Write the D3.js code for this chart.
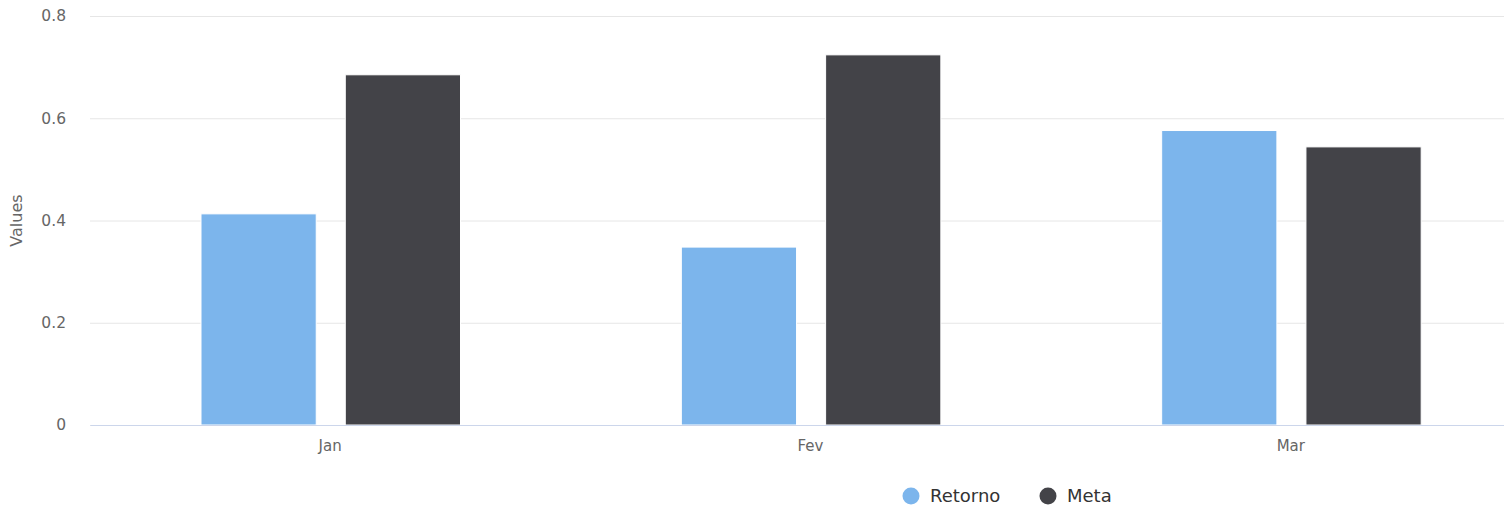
<!DOCTYPE html>
<html>
<head>
<meta charset="utf-8">
<script src="https://cdn.jsdelivr.net/npm/d3@7"></script>
<style>
  html, body { margin: 0; padding: 0; background: #fff; overflow: hidden; }
  svg { display: block; }
  svg text { font-family: "DejaVu Sans", "Lucida Grande", sans-serif; }
</style>
</head>
<body>
<div id="chart"></div>
<script>
const categories = ['Jan', 'Fev', 'Mar'];
const seriesNames = ['Retorno', 'Meta'];
const retorno = [0.413, 0.348, 0.576];
const meta = [0.685, 0.724, 0.544];
const yTicks = [0, 0.2, 0.4, 0.6, 0.8];
const colors = ['#7cb5ec', '#434348'];

const width = 1504;
const height = 513;
const plotLeft = 90;
const plotRight = 1531; // plot runs past the window edge, as in the original
const plotTop = 16;
const plotBottom = 425;

const dataset = categories.map((c, i) => ({cat: c, values: [retorno[i], meta[i]]}));

const svg = d3.select('#chart').append('svg')
    .attr('width', width)
    .attr('height', height);

const xScale = d3.scaleBand()
    .domain(categories)
    .range([plotLeft, plotRight]);

const inner = d3.scaleBand()
    .domain(seriesNames)
    .range([111, 370.5])
    .paddingInner(29 / 144);

const yScale = d3.scaleLinear()
    .domain([0, 0.8])
    .range([plotBottom, plotTop]);

// grid lines
const yAxis = d3.axisLeft(yScale)
    .tickValues(yTicks)
    .tickSize(-(width - plotLeft))
    .tickPadding(24)
    .tickFormat(d => d === 0 ? '0' : d3.format('.1f')(d));

const gy = svg.append('g')
    .attr('transform', `translate(${plotLeft}, 0)`)
    .call(yAxis);
gy.select('.domain').remove();
gy.selectAll('.tick line').attr('stroke', '#e6e6e6');
gy.selectAll('.tick text')
    .attr('fill', '#666666')
    .style('font-size', '15.5px');

svg.append('text')
    .attr('transform', `translate(22, ${(plotTop + plotBottom) / 2}) rotate(-90)`)
    .attr('text-anchor', 'middle')
    .attr('fill', '#666666')
    .style('font-size', '16px')
    .text('Values');

// bars
const groups = svg.selectAll('.group')
    .data(dataset)
    .enter()
    .append('g')
    .attr('transform', d => `translate(${xScale(d.cat)}, 0)`);

groups.selectAll('rect')
    .data(d => d.values.map((v, k) => ({name: seriesNames[k], value: v, k})))
    .enter()
    .append('rect')
    .attr('x', d => inner(d.name))
    .attr('y', d => yScale(d.value))
    .attr('width', inner.bandwidth())
    .attr('height', d => plotBottom - yScale(d.value))
    .attr('fill', d => colors[d.k])
    .attr('stroke', '#ffffff')
    .attr('stroke-width', 1);

// x axis
const xAxis = d3.axisBottom(xScale).tickSize(0).tickPadding(15);
const gx = svg.append('g')
    .attr('transform', `translate(0, ${plotBottom})`)
    .call(xAxis);
gx.select('.domain').attr('stroke', '#ccd6eb');
gx.selectAll('.tick text')
    .attr('fill', '#666666')
    .style('font-size', '15px');

// legend
const legendX = [911, 1048];
const legend = svg.selectAll('.legend')
    .data(seriesNames)
    .enter()
    .append('g')
    .attr('transform', (d, i) => `translate(${legendX[i]}, 496)`);
legend.append('circle')
    .attr('r', 8.5)
    .attr('fill', (d, i) => colors[i]);
legend.append('text')
    .attr('x', 19)
    .attr('dy', '0.35em')
    .attr('fill', '#333333')
    .style('font-size', '18px')
    .text(d => d);
</script>
</body>
</html>
